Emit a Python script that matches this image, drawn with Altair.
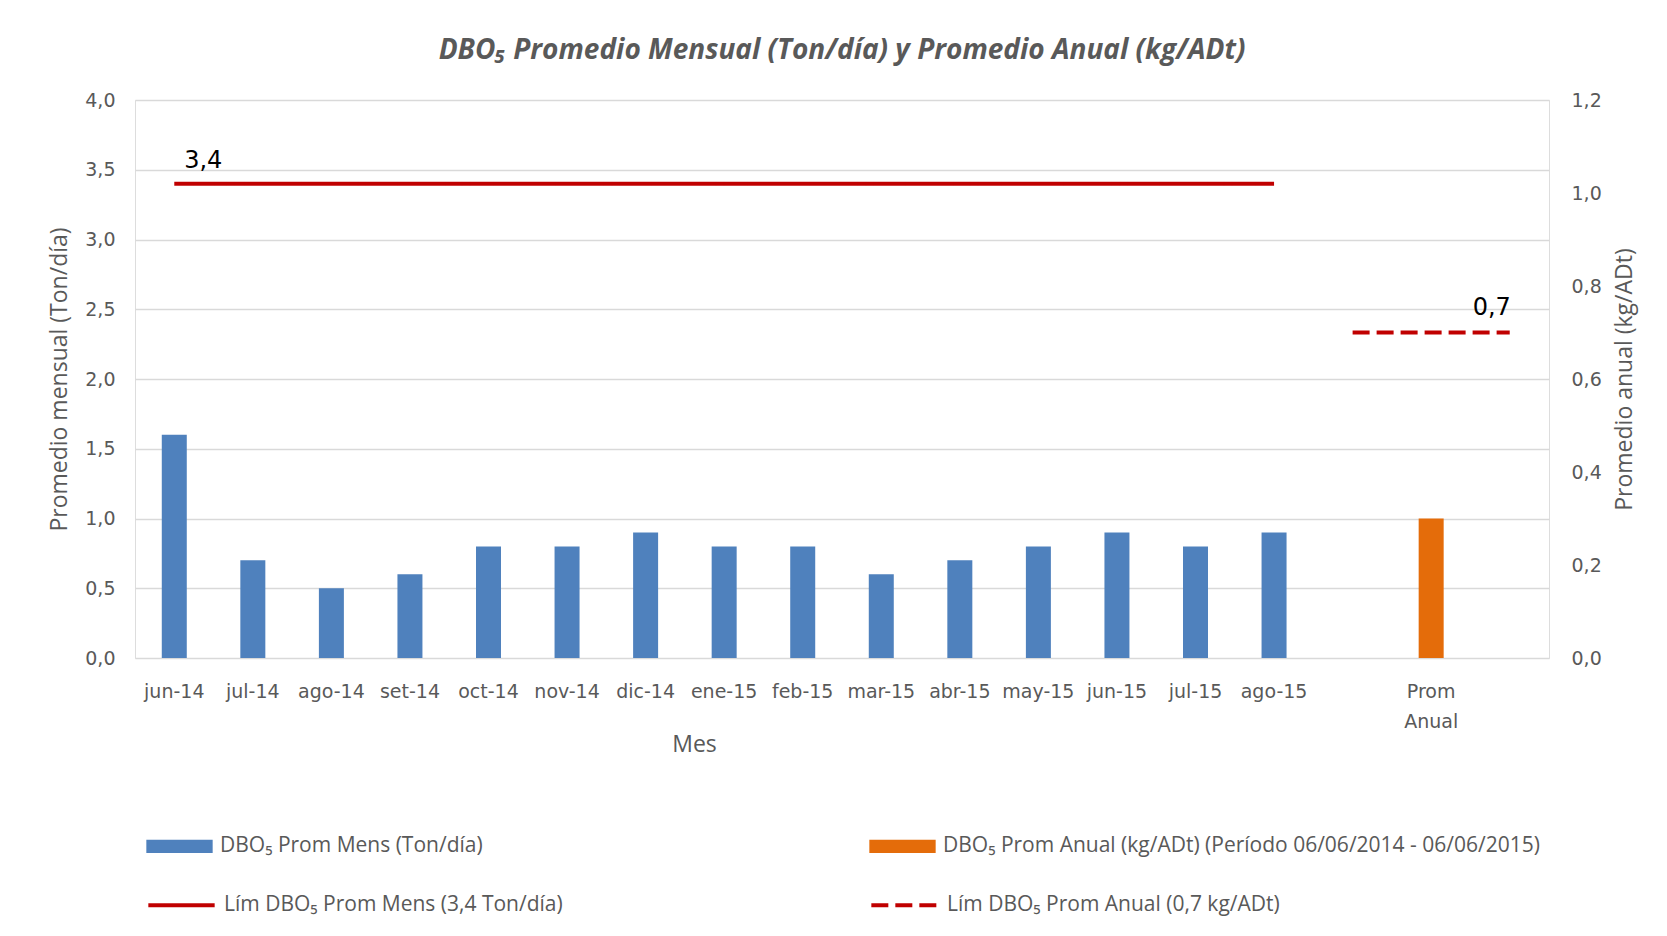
import altair as alt
import pandas as pd

# ---- data ----
months = ["jun-14", "jul-14", "ago-14", "set-14", "oct-14", "nov-14", "dic-14",
          "ene-15", "feb-15", "mar-15", "abr-15", "may-15", "jun-15", "jul-15", "ago-15"]
dbo_mens = [1.6, 0.7, 0.5, 0.6, 0.8, 0.8, 0.9, 0.8, 0.8, 0.6, 0.7, 0.8, 0.9, 0.8, 0.9]
annual_cat = "Prom Anual"
dbo_anual = [0.3]
lim_mens = 3.4
lim_anual = 0.7
gap_cats = ["_g1", "_g2"]
x_domain = months + [gap_cats[0], annual_cat, gap_cats[1]]
left_ticks = [0, 0.5, 1.0, 1.5, 2.0, 2.5, 3.0, 3.5, 4.0]
right_ticks = [0, 0.2, 0.4, 0.6, 0.8, 1.0, 1.2]

s_bar_m = "DBO₅ Prom Mens (Ton/día)"
s_bar_a = "DBO₅  Prom Anual (kg/ADt) (Período 06/06/2014 - 06/06/2015)"
s_lim_m = "Lím DBO₅ Prom Mens (3,4 Ton/día)"
s_lim_a = "Lím DBO₅ Prom Anual (0,7 kg/ADt)"

df_bars_m = pd.DataFrame({"cat": months, "val": dbo_mens, "serie": s_bar_m})
df_bar_a = pd.DataFrame({"cat": [annual_cat], "val": dbo_anual, "serie": s_bar_a})
df_lim_m = pd.DataFrame({"cat": months, "val": [lim_mens] * len(months), "serie": s_lim_m})
lim_a_cats = [gap_cats[0], annual_cat, gap_cats[1]]
df_lim_a = pd.DataFrame({"cat": lim_a_cats, "val": [lim_anual] * 3, "serie": s_lim_a})
df_lab_m = pd.DataFrame({"cat": [months[0]], "val": [lim_mens], "txt": ["3,4"]})
df_lab_a = pd.DataFrame({"cat": [gap_cats[1]], "val": [lim_anual], "txt": ["0,7"]})

GRAY = "#595959"
BLUE = "#4F81BD"
ORANGE = "#E46C0A"
RED = "#C00000"
TICKFONT = "DejaVu Sans"
TXTFONT = "Open Sans"

x_enc = alt.X(
    "cat:N",
    scale=alt.Scale(domain=x_domain, paddingInner=0, paddingOuter=0),
    sort=x_domain,
    axis=alt.Axis(
        title="Mes", domain=False, ticks=False, grid=False, labelAngle=0,
        labelExpr="datum.value == 'Prom Anual' ? ['Prom', 'Anual'] : (indexof(datum.value, '_') == 0 ? '' : datum.value)",
        labelFont=TICKFONT, labelFontSize=19, labelColor=GRAY, labelPadding=24,
        labelLineHeight=30,
        titleFont=TXTFONT, titleFontSize=23, titleColor=GRAY, titleFontWeight="normal",
        titlePadding=2, titleX=559,
    ),
)

y_left_scale = alt.Scale(domain=[0, 4])
y_left_axis = alt.Axis(
    title="Promedio mensual (Ton/día)", values=left_ticks, domain=False, ticks=False,
    grid=True, gridColor="#D9D9D9", gridWidth=1.3,
    labelExpr="replace(format(datum.value, '.1f'), '.', ',')",
    labelFont=TICKFONT, labelFontSize=19, labelColor=GRAY, labelPadding=20,
    titleFont=TXTFONT, titleFontSize=23, titleColor=GRAY, titleFontWeight="normal",
    titlePadding=13,
)
y_right_scale = alt.Scale(domain=[0, 1.2])
y_right_axis = alt.Axis(
    title="Promedio anual (kg/ADt)", orient="right", values=right_ticks, domain=False,
    ticks=False, grid=False, titleAngle=270, titleBaseline="top",
    labelExpr="replace(format(datum.value, '.1f'), '.', ',')",
    labelFont=TICKFONT, labelFontSize=19, labelColor=GRAY, labelPadding=22,
    titleFont=TXTFONT, titleFontSize=23, titleColor=GRAY, titleFontWeight="normal",
    titlePadding=12,
)

RECT = "M-1,-0.2H1V0.2H-1Z"
SYM = 4400
HALF = SYM ** 0.5 / 2


def leg(x, yc, **kw):
    return alt.Legend(title=None, orient="none", legendX=x, legendY=yc - HALF, padding=0,
                      labelFont=TXTFONT, labelFontSize=21, labelColor=GRAY, labelLimit=0,
                      labelOffset=7, symbolSize=SYM, **kw)


bars_m = alt.Chart(df_bars_m).mark_bar(size=25).encode(
    x=x_enc,
    y=alt.Y("val:Q", scale=y_left_scale, axis=y_left_axis),
    color=alt.Color("serie:N", scale=alt.Scale(domain=[s_bar_m], range=[BLUE]),
                    legend=leg(11, 746, symbolType=RECT, symbolStrokeWidth=0)),
)
line_m = alt.Chart(df_lim_m).mark_line(color=RED, strokeWidth=4).encode(
    x=x_enc,
    y=alt.Y("val:Q", scale=y_left_scale, axis=y_left_axis),
    strokeDash=alt.StrokeDash("serie:N", scale=alt.Scale(domain=[s_lim_m], range=[[1, 0]]),
                              legend=leg(11, 803, symbolType="stroke", symbolStrokeColor=RED,
                                         symbolStrokeWidth=4)),
)
txt_m = alt.Chart(df_lab_m).mark_text(font=TICKFONT, fontSize=24, color="black",
                                      dx=29, dy=-23).encode(
    x=x_enc, y=alt.Y("val:Q", scale=y_left_scale, axis=y_left_axis), text="txt:N")

left = alt.layer(bars_m, line_m, txt_m)

bar_a = alt.Chart(df_bar_a).mark_bar(size=25).encode(
    x=x_enc,
    y=alt.Y("val:Q", scale=y_right_scale, axis=y_right_axis),
    color=alt.Color("serie:N", scale=alt.Scale(domain=[s_bar_a], range=[ORANGE]),
                    legend=leg(734, 746, symbolType=RECT, symbolStrokeWidth=0)),
)
line_a = alt.Chart(df_lim_a).mark_line(color=RED, strokeWidth=4).encode(
    x=x_enc,
    y=alt.Y("val:Q", scale=y_right_scale, axis=y_right_axis),
    strokeDash=alt.StrokeDash("serie:N", scale=alt.Scale(domain=[s_lim_a], range=[[17, 7]]),
                              legend=leg(734, 803, symbolType="stroke", symbolStrokeColor=RED,
                                         symbolStrokeWidth=4)),
)
txt_a = alt.Chart(df_lab_a).mark_text(font=TICKFONT, fontSize=24, color="black",
                                      dx=-18, dy=-25).encode(
    x=x_enc, y=alt.Y("val:Q", scale=y_right_scale, axis=y_right_axis), text="txt:N")

right = alt.layer(bar_a, line_a, txt_a)

chart = alt.layer(left, right).resolve_scale(
    y="independent", color="independent", strokeDash="independent"
).properties(
    width=1414, height=558,
    padding={"left": 127, "top": 92, "right": 110, "bottom": 270},
    autosize=alt.AutoSizeParams(type="none"),
    title=alt.Title(
        "DBO₅ Promedio Mensual (Ton/día) y Promedio Anual (kg/ADt)",
        font=TXTFONT, fontSize=28, fontStyle="italic", fontWeight="bold",
        color=GRAY, anchor="middle", offset=26,
    ),
).configure_view(stroke=None).configure(background="white")

chart.save("out.html", embed_options={"renderer": "svg", "actions": False})
